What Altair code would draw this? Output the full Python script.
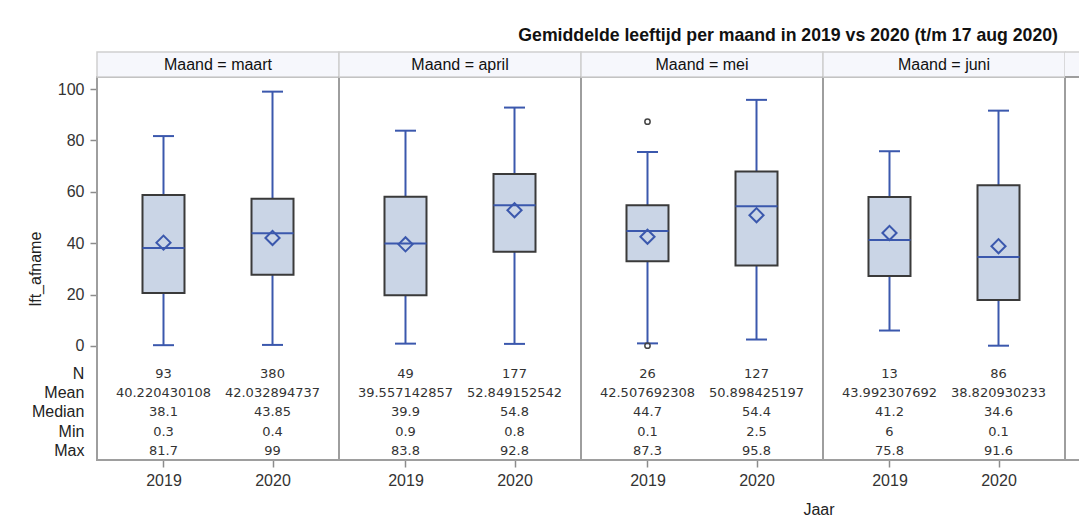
import altair as alt
import pandas as pd

# ---- data ----
months = ["maart", "april", "mei", "juni"]
box_month = ["maart", "maart", "april", "april", "mei", "mei", "juni", "juni"]
box_year = ["2019", "2020", "2019", "2020", "2019", "2020", "2019", "2020"]
n_vals = [93, 380, 49, 177, 26, 127, 13, 86]
mean_txt = ["40.220430108", "42.032894737", "39.557142857", "52.849152542",
            "42.507692308", "50.898425197", "43.992307692", "38.820930233"]
median_vals = [38.1, 43.85, 39.9, 54.8, 44.7, 54.4, 41.2, 34.6]
min_vals = [0.3, 0.4, 0.9, 0.8, 0.1, 2.5, 6, 0.1]
max_vals = [81.7, 99, 83.8, 92.8, 87.3, 95.8, 75.8, 91.6]
q1_vals = [20.6, 27.7, 19.7, 36.7, 33.0, 31.3, 27.2, 17.9]
q3_vals = [58.8, 57.3, 58.1, 66.9, 54.8, 67.9, 58.0, 62.6]
whisker_lo = [0.3, 0.4, 0.9, 0.8, 1.0, 2.5, 6, 0.1]
whisker_hi = [81.7, 99, 83.8, 92.8, 75.5, 95.8, 75.8, 91.6]
outlier_month = ["mei", "mei"]
outlier_year = ["2019", "2019"]
outlier_vals = [87.3, 0.1]
stat_names = ["N", "Mean", "Median", "Min", "Max"]
years = ["2019", "2020"]

TITLE = "Gemiddelde leeftijd per maand in 2019 vs 2020 (t/m 17 aug 2020)"
X_TITLE = "Jaar"

# ---- build one table for the facet ----
rows = []
for i in range(len(box_month)):
    rows.append(dict(kind="box", month=box_month[i], year=box_year[i],
                     q1=q1_vals[i], q3=q3_vals[i], med=median_vals[i],
                     mean=float(mean_txt[i]), wlo=whisker_lo[i], whi=whisker_hi[i]))
    stat_labels = [str(n_vals[i]), mean_txt[i], str(median_vals[i]),
                   str(min_vals[i]), str(max_vals[i])]
    for k, (s, lab) in enumerate(zip(stat_names, stat_labels)):
        rows.append(dict(kind="stat", month=box_month[i], year=box_year[i],
                         stat=s, label=lab, srow=k))
for m, yv, v in zip(outlier_month, outlier_year, outlier_vals):
    rows.append(dict(kind="out", month=m, year=yv, val=v))
for m in months:
    rows.append(dict(kind="head", month=m, htext="Maand = " + m))
df = pd.DataFrame(rows)

PW, PH = 242, 383
STUB = 14  # visible sliver of the next (cut-off) panel
Y_TOP, Y_BOT = 104.7, -44.4
BLUE = "#3b58ad"
FONT = "Liberation Sans"
FRAME = "#9e9e9e"
HEAD_FILL = "#f6f7fc"
HEAD_LINE = "#cfcfcf"

x_enc = alt.X(
    "year:N",
    scale=alt.Scale(type="point", domain=years, padding=0.61),
    axis=alt.Axis(title=None, labelFontSize=16, labelFont=FONT, labelColor="#333",
                  labelAngle=0, tickSize=7, tickColor="#8c8c8c", tickWidth=1.5,
                  labelPadding=5, domain=False),
)
y_scale = alt.Scale(domain=[Y_BOT, Y_TOP], nice=False, zero=False)
y_axis = alt.Axis(title="lft_afname", orient="left", values=[0, 20, 40, 60, 80, 100],
                  grid=False, domain=False, tickSize=7, tickColor="#8c8c8c",
                  tickWidth=1.5, labelFontSize=16, labelFont=FONT, labelColor="#333",
                  labelPadding=6, titleFontSize=16, titleFont=FONT,
                  titleFontWeight="normal", titleColor="#222", titlePadding=14)


def Y(field):
    return alt.Y(field, scale=y_scale, axis=y_axis)


base = alt.Chart()
boxes = base.transform_filter(alt.datum.kind == "box")

wl = boxes.mark_rule(color=BLUE, strokeWidth=2).encode(x=x_enc, y=Y("wlo:Q"), y2="q1:Q")
wh = boxes.mark_rule(color=BLUE, strokeWidth=2).encode(x=x_enc, y=Y("q3:Q"), y2="whi:Q")
cl = boxes.mark_tick(color=BLUE, size=21, thickness=2, opacity=1).encode(x=x_enc, y=Y("wlo:Q"))
ch = boxes.mark_tick(color=BLUE, size=21, thickness=2, opacity=1).encode(x=x_enc, y=Y("whi:Q"))
bx = boxes.mark_bar(size=42, fill="#cad5e6", stroke="#3a3a3a", strokeWidth=2).encode(
    x=x_enc, y=Y("q1:Q"), y2="q3:Q")
md = boxes.mark_tick(color=BLUE, size=42, thickness=2, opacity=1).encode(x=x_enc, y=Y("med:Q"))
mn = boxes.mark_point(shape="diamond", size=200, filled=False, color=BLUE,
                      strokeWidth=2, opacity=1).encode(x=x_enc, y=Y("mean:Q"))
ol = base.transform_filter(alt.datum.kind == "out").mark_point(
    shape="circle", size=28, filled=False, color="#444", strokeWidth=1.5, opacity=1
).encode(x=x_enc, y=Y("val:Q"))

# statistics table inside the panel, rows laid out below the zero line
stats = base.transform_filter(alt.datum.kind == "stat").transform_calculate(
    ypos="-10.9 - datum.srow * 7.5")
table = stats.mark_text(font="DejaVu Sans", fontSize=13, color="#333",
                        baseline="middle").encode(
    x=x_enc, y=Y("ypos:Q"), text="label:N")
row_labels = stats.transform_filter(
    (alt.datum.month == months[0]) & (alt.datum.year == years[0])
).mark_text(font=FONT, fontSize=16, color="#222", align="right",
            baseline="middle").encode(
    x=alt.value(-12.6), y=Y("ypos:Q"), text="stat:N")

heads = base.transform_filter(alt.datum.kind == "head")
head_rect = heads.mark_rect(fill=HEAD_FILL, stroke=HEAD_LINE, strokeWidth=1.5).encode(
    x=alt.value(0), x2=alt.value(PW), y=alt.value(-25), y2=alt.value(0))
head_text = heads.mark_text(font=FONT, fontSize=16, color="#111", baseline="middle").encode(
    x=alt.value(PW / 2), y=alt.value(-12.5), text="htext:N")

last = heads.transform_filter(alt.datum.month == months[3])
# the x title of the whole graph sits under the mei/juni boundary
x_title = last.mark_text(
    font=FONT, fontSize=16, color="#222", baseline="middle", text=X_TITLE
).encode(x=alt.value(-4), y=alt.value(PH + 50))
# sliver of the following panel that is cut off at the right edge
stub_head = last.mark_rect(fill=HEAD_FILL).encode(
    x=alt.value(PW), x2=alt.value(PW + STUB), y=alt.value(-25), y2=alt.value(0))
stub_top = last.mark_rule(color=HEAD_LINE, strokeWidth=1.5).encode(
    x=alt.value(PW), x2=alt.value(PW + STUB), y=alt.value(-25))
stub_mid = last.mark_rule(color=FRAME, strokeWidth=2).encode(
    x=alt.value(PW), x2=alt.value(PW + STUB), y=alt.value(0))
stub_bot = last.mark_rule(color=FRAME, strokeWidth=2).encode(
    x=alt.value(PW), x2=alt.value(PW + STUB), y=alt.value(PH))

panel = alt.layer(head_rect, head_text, stub_head, stub_top, stub_mid, stub_bot,
                  wl, wh, cl, ch, bx, md, mn, ol,
                  table, row_labels, x_title).properties(width=PW, height=PH)

chart = panel.facet(
    column=alt.Column("month:N", sort=months, header=alt.Header(labels=False), title=None),
    data=df,
    spacing=0,
    bounds="flush",
).properties(
    title=alt.TitleParams(TITLE, anchor="end", fontSize=17.7, font=FONT,
                          fontWeight="bold", color="#111", offset=6, dx=-9 - STUB),
    padding={"left": 19, "top": 18, "right": 0, "bottom": 0},
).configure_view(stroke=FRAME, strokeWidth=2)

chart.save("out.html", embed_options={"renderer": "svg", "actions": False})
